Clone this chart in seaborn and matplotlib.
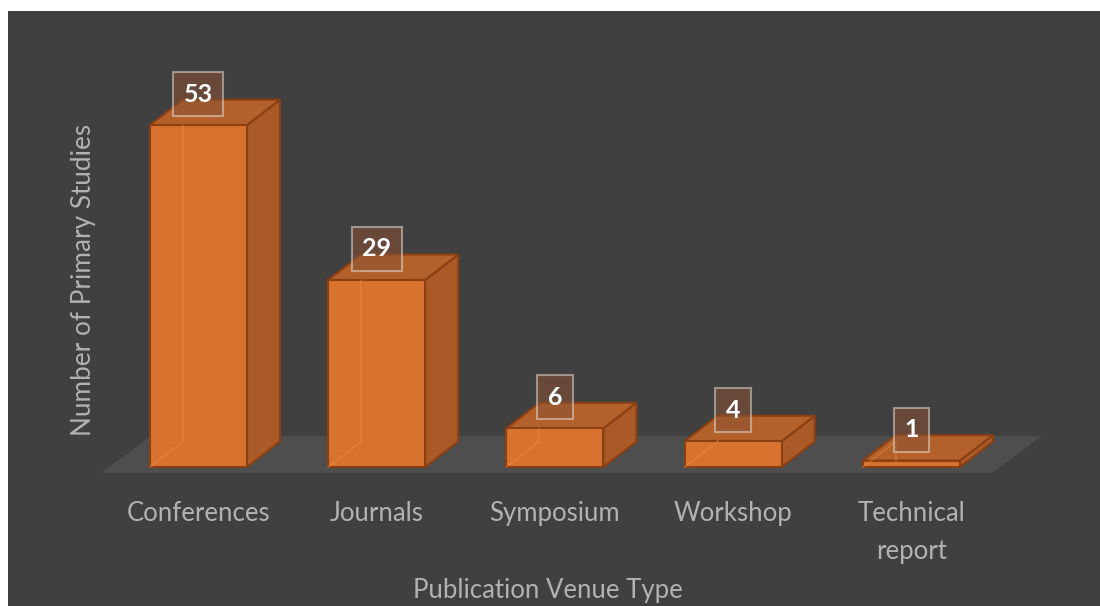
import matplotlib
matplotlib.use("Agg")
import matplotlib.pyplot as plt
from matplotlib.patches import Polygon
import numpy as np
import pandas as pd
import seaborn as sns

# Data
venues = ["Conferences", "Journals", "Symposium", "Workshop", "Technical\nreport"]
studies = [53, 29, 6, 4, 1]

W, H, DPI = 1100, 606, 100
BG = "#404040"
FLOOR = "#4e4e4e"
TXT = "#b2b2b2"
FRONT = "#d8732f"
SIDE = "#a95a27"
TOP = "#b4602a"
EDGE = "#8a4013"
HIDDEN = "#eb9050"

sns.set_theme(style="dark")
plt.rcParams["font.family"] = ["Lato", "DejaVu Sans"]

fig = plt.figure(figsize=(W / DPI, H / DPI), dpi=DPI, facecolor="white")
ax = fig.add_axes([8 / W, 0, 1 - 8 / W, 1 - 11 / H])
ax.set_facecolor(BG)

df = pd.DataFrame({"venue": venues, "studies": studies})
sns.barplot(data=df, x="venue", y="studies", width=0.545, color=FRONT,
            saturation=1, edgecolor=EDGE, linewidth=1.5, ax=ax, zorder=3)

ax.set_xlim(-1.068, 5.058)
ax.set_ylim(-21.55, 70.70)
ax.set_xticks([])
ax.set_yticks([])
ax.set_xlabel("")
ax.set_ylabel("")
for s in ax.spines.values():
    s.set_visible(False)

# Floor plane
floor = Polygon([(-0.547, -0.93), (4.452, -0.93), (4.733, 4.81), (-0.265, 4.81)],
                closed=True, facecolor=FLOOR, edgecolor="none", zorder=1)
ax.add_patch(floor)

# Depth of the bar boxes (in data units)
dx, dy = 0.185, 3.95

for p in list(ax.patches):
    if p is floor:
        continue
    x0, w, h = p.get_x(), p.get_width(), p.get_height()
    side = [(x0 + w, 0), (x0 + w + dx, dy), (x0 + w + dx, h + dy), (x0 + w, h)]
    top = [(x0, h), (x0 + w, h), (x0 + w + dx, h + dy), (x0 + dx, h + dy)]
    ax.add_patch(Polygon(side, closed=True, facecolor=SIDE, edgecolor=EDGE,
                         linewidth=1.5, zorder=2.5))
    ax.add_patch(Polygon(top, closed=True, facecolor=TOP, edgecolor=EDGE,
                         linewidth=1.5, zorder=2.5))
    # back edges seen through the translucent front face
    ax.plot([x0 + dx, x0 + dx], [dy, h], color=HIDDEN, lw=1.2, alpha=0.4, zorder=3.5)
    ax.plot([x0, x0 + dx], [0, dy], color=HIDDEN, lw=1.2, alpha=0.4, zorder=3.5)

# Value labels
for i, v in enumerate(studies):
    ax.annotate(f"{v}", (i, v + 4.8), ha="center", va="center",
                fontsize=18, fontweight="bold", color="white", zorder=6,
                bbox=dict(boxstyle="square,pad=0.42", facecolor="#8a5234",
                          alpha=0.55, edgecolor="#e0d8d0", linewidth=1.5))

# Category labels
for i, name in enumerate(venues):
    ax.text(i, -5.3, name, ha="center", va="top", fontsize=18.5, color=TXT,
            linespacing=1.62, zorder=6)

ax.text(1.96, -19.1, "Publication Venue Type", ha="center", va="center",
        fontsize=18.5, color=TXT)
ax.text(-0.645, 29.0, "Number of Primary Studies", ha="center", va="center",
        rotation=90, fontsize=18.8, color=TXT)

fig.savefig("out.png", dpi=DPI, facecolor="white")
